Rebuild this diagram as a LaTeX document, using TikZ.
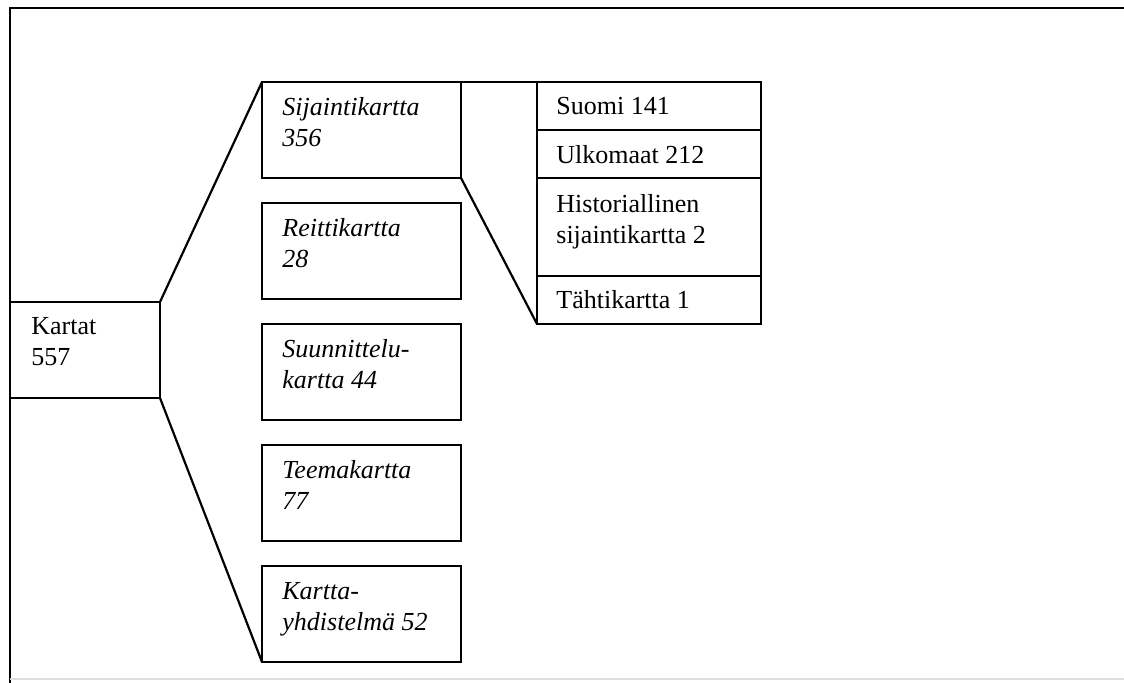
\documentclass[tikz,border=0pt]{standalone}
\usepackage{fontspec}
\setmainfont{Liberation Serif}
\usetikzlibrary{calc,fit}
% two lines stacked, baseline on the first line
\newcommand\twoln[2]{\vtop{\hbox{#1}\hbox{#2}}}
\begin{document}
\begin{tikzpicture}[x=0.5pt,y=-0.5pt,
  box/.style={draw, line width=1.1pt, rectangle, inner sep=0pt, outer sep=0pt},
  lbl/.style={anchor=base west, inner sep=0pt,
    font=\fontsize{13pt}{15.5pt}\selectfont},
  link/.style={line width=1.1pt, line join=miter},
  frame/.style={line width=1.2pt}]
\useasboundingbox (0,0) rectangle (1124,683);

% page frame
\coordinate (ftl) at (10,8);
\coordinate (ftr) at (1124,8);
\coordinate (fbl) at (10,683);
\coordinate (gbl) at (10,679);
\coordinate (gbr) at (1124,679);
\draw[frame] (ftr) -- (ftl) -- (fbl);
\draw[gray!25, line width=0.8pt] (gbl) -- (gbr);

% root
\node[box, fit={(10,302) (160,398)}] (kartat) {};
\node[lbl] (tkartat) at ($(kartat.north west)+(21,33)$) {\twoln{Kartat}{557}};

% map types
\node[box, fit={(262,82) (461,178)}]  (sij)   {};
\node[box, fit={(262,203) (461,299)}] (reitti) {};
\node[box, fit={(262,324) (461,420)}] (suunn) {};
\node[box, fit={(262,445) (461,541)}] (teema) {};
\node[box, fit={(262,566) (461,662)}] (kyh)   {};

\node[lbl] (tsij)    at ($(sij.north west)+(20,34)$)    {\itshape\twoln{Sijaintikartta}{356}};
\node[lbl] (treitti) at ($(reitti.north west)+(20,34)$) {\itshape\twoln{Reittikartta}{28}};
\node[lbl] (tsuunn)  at ($(suunn.north west)+(20,34)$)  {\itshape\twoln{Suunnittelu-}{kartta 44}};
\node[lbl] (tteema)  at ($(teema.north west)+(20,34)$)  {\itshape\twoln{Teemakartta}{77}};
\node[lbl] (tkyh)    at ($(kyh.north west)+(20,34)$)    {\itshape\twoln{Kartta-}{yhdistelmä 52}};

% subdivision of Sijaintikartta
\node[box, fit={(537,82) (761,130)}]  (suomi)  {};
\node[box, fit={(537,130) (761,178)}] (ulko)   {};
\node[box, fit={(537,178) (761,276)}] (hist)   {};
\node[box, fit={(537,276) (761,324)}] (tahti)  {};

\node[lbl] (tsuomi) at ($(suomi.north west)+(19,33)$) {Suomi 141};
\node[lbl] (tulko)  at ($(ulko.north west)+(19,34)$)  {Ulkomaat 212};
\node[lbl] (thist)  at ($(hist.north west)+(19,35)$)  {\twoln{Historiallinen}{sijaintikartta 2}};
\node[lbl] (ttahti) at ($(tahti.north west)+(19,33)$) {Tähtikartta 1};

% connectors
\draw[link] (kartat.north east) -- (sij.north west);
\draw[link] (kartat.south east) -- (kyh.south west);
\draw[link] (sij.north east) -- (suomi.north west);
\draw[link] (sij.south east) -- (tahti.south west);
\end{tikzpicture}
\end{document}
